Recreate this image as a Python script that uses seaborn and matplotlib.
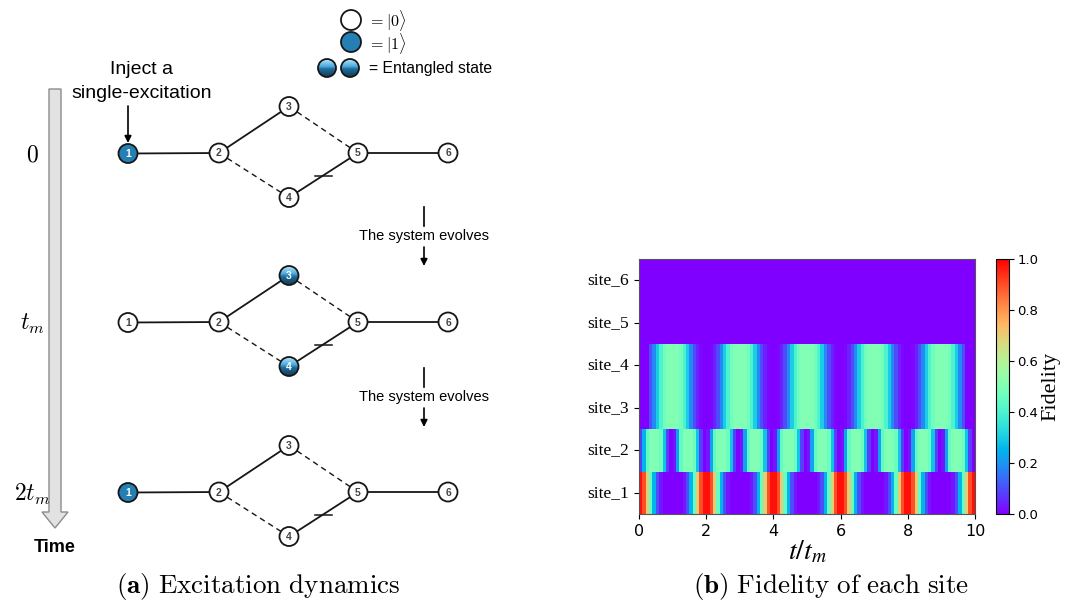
import numpy as np
import pandas as pd
import matplotlib
matplotlib.use("Agg")
import matplotlib.pyplot as plt
import seaborn as sns
from matplotlib.patches import Circle, FancyArrow
from matplotlib.colors import LinearSegmentedColormap

# ---------------------------------------------------------------------------
# Fidelity of each site, sampled in cells of width 0.1 t_m (centres 0.05 .. 9.95)
# ---------------------------------------------------------------------------
time_ticks = [0, 2, 4, 6, 8, 10]
site_names = ["site_6", "site_5", "site_4", "site_3", "site_2", "site_1"]

fid_site1 = [
    0.98, 0.90, 0.70, 0.45, 0.25, 0.10, 0.03, 0.00, 0.00, 0.00,
    0.00, 0.00, 0.00, 0.03, 0.10, 0.25, 0.45, 0.70, 0.90, 0.98,
    0.98, 0.90, 0.70, 0.45, 0.25, 0.10, 0.03, 0.00, 0.00, 0.00,
    0.00, 0.00, 0.00, 0.03, 0.10, 0.25, 0.45, 0.70, 0.90, 0.98,
    0.98, 0.90, 0.70, 0.45, 0.25, 0.10, 0.03, 0.00, 0.00, 0.00,
    0.00, 0.00, 0.00, 0.03, 0.10, 0.25, 0.45, 0.70, 0.90, 0.98,
    0.98, 0.90, 0.70, 0.45, 0.25, 0.10, 0.03, 0.00, 0.00, 0.00,
    0.00, 0.00, 0.00, 0.03, 0.10, 0.25, 0.45, 0.70, 0.90, 0.98,
    0.98, 0.90, 0.70, 0.45, 0.25, 0.10, 0.03, 0.00, 0.00, 0.00,
    0.00, 0.00, 0.00, 0.03, 0.10, 0.25, 0.45, 0.70, 0.90, 0.98,
]

fid_site2 = [
    0.08, 0.25, 0.44, 0.50, 0.50, 0.50, 0.46, 0.28, 0.08, 0.00,
    0.03, 0.22, 0.44, 0.50, 0.50, 0.50, 0.46, 0.28, 0.08, 0.00,
    0.03, 0.22, 0.44, 0.50, 0.50, 0.50, 0.46, 0.28, 0.08, 0.00,
    0.03, 0.22, 0.44, 0.50, 0.50, 0.50, 0.46, 0.28, 0.08, 0.00,
    0.03, 0.22, 0.44, 0.50, 0.50, 0.50, 0.46, 0.28, 0.08, 0.00,
    0.03, 0.22, 0.44, 0.50, 0.50, 0.50, 0.46, 0.28, 0.08, 0.00,
    0.03, 0.22, 0.44, 0.50, 0.50, 0.50, 0.46, 0.28, 0.08, 0.00,
    0.03, 0.22, 0.44, 0.50, 0.50, 0.50, 0.46, 0.28, 0.08, 0.00,
    0.03, 0.22, 0.44, 0.50, 0.50, 0.50, 0.46, 0.28, 0.08, 0.00,
    0.03, 0.22, 0.44, 0.50, 0.50, 0.50, 0.46, 0.28, 0.08, 0.00,
]

fid_site3 = [
    0.00, 0.00, 0.00, 0.10, 0.18, 0.30, 0.40, 0.47, 0.50, 0.50,
    0.50, 0.50, 0.47, 0.40, 0.30, 0.18, 0.10, 0.04, 0.01, 0.00,
    0.00, 0.01, 0.04, 0.10, 0.18, 0.30, 0.40, 0.47, 0.50, 0.50,
    0.50, 0.50, 0.47, 0.40, 0.30, 0.18, 0.10, 0.04, 0.01, 0.00,
    0.00, 0.01, 0.04, 0.10, 0.18, 0.30, 0.40, 0.47, 0.50, 0.50,
    0.50, 0.50, 0.47, 0.40, 0.30, 0.18, 0.10, 0.04, 0.01, 0.00,
    0.00, 0.01, 0.04, 0.10, 0.18, 0.30, 0.40, 0.47, 0.50, 0.50,
    0.50, 0.50, 0.47, 0.40, 0.30, 0.18, 0.10, 0.04, 0.01, 0.00,
    0.00, 0.01, 0.04, 0.10, 0.18, 0.30, 0.40, 0.47, 0.50, 0.50,
    0.50, 0.50, 0.47, 0.40, 0.30, 0.18, 0.10, 0.00, 0.00, 0.00,
]

fid_site4 = [
    0.00, 0.00, 0.00, 0.10, 0.18, 0.30, 0.40, 0.47, 0.50, 0.50,
    0.50, 0.50, 0.47, 0.40, 0.30, 0.18, 0.10, 0.04, 0.01, 0.00,
    0.00, 0.01, 0.04, 0.10, 0.18, 0.30, 0.40, 0.47, 0.50, 0.50,
    0.50, 0.50, 0.47, 0.40, 0.30, 0.18, 0.10, 0.04, 0.01, 0.00,
    0.00, 0.01, 0.04, 0.10, 0.18, 0.30, 0.40, 0.47, 0.50, 0.50,
    0.50, 0.50, 0.47, 0.40, 0.30, 0.18, 0.10, 0.04, 0.01, 0.00,
    0.00, 0.01, 0.04, 0.10, 0.18, 0.30, 0.40, 0.47, 0.50, 0.50,
    0.50, 0.50, 0.47, 0.40, 0.30, 0.18, 0.10, 0.04, 0.01, 0.00,
    0.00, 0.01, 0.04, 0.10, 0.18, 0.30, 0.40, 0.47, 0.50, 0.50,
    0.50, 0.50, 0.47, 0.40, 0.30, 0.18, 0.10, 0.00, 0.00, 0.00,
]

fid_site5 = [0.0] * 100
fid_site6 = [0.0] * 100

# Network states shown at t = 0, t_m, 2t_m
time_labels = [r"$0$", r"$t_m$", r"$2t_m$"]
excited_nodes = [[1], [], [1]]
entangled_nodes = [[], [3, 4], []]

# ---------------------------------------------------------------------------
SANS = "Liberation Sans"
SERIF = "Liberation Serif"
BLUE = "#2480b4"
EDGE = "#161616"

ent_cmap = LinearSegmentedColormap.from_list(
    "ent", [(0.0, "#b6e6fb"), (0.4, "#4eacdf"), (0.55, "#1f6d9c"), (1.0, "#123a55")])

fig = plt.figure(figsize=(10.66, 6.01), dpi=100)

# Overlay in pixel-like coordinates for the schematic
ov = fig.add_axes([0, 0, 1, 1])
ov.set_xlim(0, 1066)
ov.set_ylim(601, 0)
ov.axis("off")
ov.set_autoscale_on(False)


def plain_node(x, y, r, n=None, face="white", txt="#444444"):
    ov.add_patch(Circle((x, y), r, facecolor=face, edgecolor=EDGE, lw=1.3, zorder=5))
    if n is not None:
        ov.text(x, y + 0.5, str(n), ha="center", va="center", fontsize=7.5,
                fontweight="bold", color=txt, family=SANS, zorder=6)


def shaded_node(x, y, r, n=None):
    circ = Circle((x, y), r, facecolor="none", edgecolor=EDGE, lw=1.3, zorder=6)
    ov.add_patch(circ)
    grad = np.linspace(0, 1, 64).reshape(-1, 1)
    im = ov.imshow(grad, cmap=ent_cmap, extent=(x - r, x + r, y + r, y - r),
                   origin="upper", aspect="auto", zorder=5, interpolation="bilinear")
    im.set_clip_path(circ)
    if n is not None:
        ov.text(x, y + 0.5, str(n), ha="center", va="center", fontsize=7.5,
                fontweight="bold", color="white", family=SANS, zorder=7)


# Node layout of one row (offsets from the row baseline)
node_dx = {1: 128, 2: 219, 3: 289, 4: 289, 5: 358, 6: 448}
node_dy = {1: 0.5, 2: 0, 3: -46.5, 4: 44.5, 5: 0, 6: 0}
row_y = [153, 322, 492]
R = 9.5

solid_edges = [(1, 2), (2, 3), (4, 5), (5, 6)]
dashed_edges = [(2, 4), (3, 5)]

for k, y0 in enumerate(row_y):
    pos = {n: (node_dx[n], y0 + node_dy[n]) for n in node_dx}
    for a, b in solid_edges:
        ov.plot([pos[a][0], pos[b][0]], [pos[a][1], pos[b][1]], color=EDGE, lw=1.3, zorder=2)
    for a, b in dashed_edges:
        ov.plot([pos[a][0], pos[b][0]], [pos[a][1], pos[b][1]], color=EDGE, lw=1.0,
                ls=(0, (4, 3)), zorder=2)
    # phase mark on the 4-5 coupling
    ov.plot([315, 332], [y0 + 23, y0 + 23], color=EDGE, lw=1.1, zorder=3)
    for n in node_dx:
        x, y = pos[n]
        if n in excited_nodes[k]:
            plain_node(x, y, R, n, face=BLUE, txt="white")
        elif n in entangled_nodes[k]:
            shaded_node(x, y, R, n)
        else:
            plain_node(x, y, R, n)
    ov.text(32, y0 + 2, time_labels[k], ha="center", va="center", fontsize=17,
            math_fontfamily="cm")

# Time arrow
ov.add_patch(FancyArrow(55, 89, 0, 439, width=12, head_width=26, head_length=16,
                        length_includes_head=True, fc="#e2e2e2", ec="#8c8c8c", lw=1.0,
                        zorder=1))
ov.text(55, 548, "Time", ha="center", va="center", fontsize=13, fontweight="bold",
        family=SANS)

# Injection arrow and text
ov.text(141, 70, "Inject a", ha="center", va="center", fontsize=14, family=SANS)
ov.text(142, 93, "single-excitation", ha="center", va="center", fontsize=14, family=SANS)
ov.annotate("", xy=(128, 143), xytext=(128, 106),
            arrowprops=dict(arrowstyle="-|>", color="black", lw=1.2, mutation_scale=10,
                            shrinkA=0, shrinkB=0))

# Evolution arrows
for y_text in (236, 397):
    ov.plot([424, 424], [y_text - 29, y_text - 10], color="black", lw=1.2)
    ov.text(424, y_text, "The system evolves", ha="center", va="center", fontsize=10.5,
            family=SANS)
    ov.annotate("", xy=(424, y_text + 30), xytext=(424, y_text + 11),
                arrowprops=dict(arrowstyle="-|>", color="black", lw=1.2, mutation_scale=10,
                                shrinkA=0, shrinkB=0))

# Key for node states
plain_node(351, 20, 10)
ov.text(368, 20, r"$= |0\rangle$", ha="left", va="center", fontsize=11.5, math_fontfamily="cm")
plain_node(351, 42, 10, face=BLUE)
ov.text(368, 43, r"$= |1\rangle$", ha="left", va="center", fontsize=11.5, math_fontfamily="cm")
shaded_node(327, 68, 9)
shaded_node(350, 68, 9)
ov.text(369, 68, "= Entangled state", ha="left", va="center", fontsize=11.3, family=SANS)

# Captions
ov.text(258, 586, r"$\mathbf{(a)}\ \mathrm{Excitation\ dynamics}$", ha="center",
        va="center", fontsize=19.5, math_fontfamily="cm")
ov.text(831, 586, r"$\mathbf{(b)}\ \mathrm{Fidelity\ of\ each\ site}$", ha="center",
        va="center", fontsize=19.5, math_fontfamily="cm")

# ---------------------------------------------------------------------------
# Fidelity heatmap
# ---------------------------------------------------------------------------
df = pd.DataFrame([fid_site6, fid_site5, fid_site4, fid_site3, fid_site2, fid_site1],
                  index=site_names)

ax = fig.add_axes([639 / 1066, 87 / 601, 336 / 1066, 255 / 601])
cax = fig.add_axes([996 / 1066, 87 / 601, 13 / 1066, 255 / 601])
sns.heatmap(df, ax=ax, cbar_ax=cax, cmap="rainbow", vmin=0, vmax=1,
            xticklabels=False, yticklabels=True)
ax.collections[0].set_antialiased(False)

ncols = df.shape[1]
ax.set_xticks([t * ncols / 10 for t in time_ticks])
ax.set_xticklabels([str(t) for t in time_ticks], rotation=0, fontsize=11.5)
ax.set_yticks(np.arange(len(site_names)) + 0.5)
ax.set_yticklabels(site_names, rotation=0, fontsize=12.5, family=SERIF)
ax.tick_params(axis="both", length=3.5, width=0.8)
ax.set_xlabel(r"$t/t_m$", fontsize=20, math_fontfamily="stix", labelpad=-1)
ax.set_ylabel("")
for sp in ax.spines.values():
    sp.set_visible(True)
    sp.set_linewidth(0.8)
    sp.set_color("#555555")

cbar = ax.collections[0].colorbar
cbar.set_ticks([0.0, 0.2, 0.4, 0.6, 0.8, 1.0])
cbar.ax.tick_params(labelsize=9.5, length=3.5, width=0.8, pad=2.5)
cbar.set_label("Fidelity", family=SERIF, fontsize=16, labelpad=2)
cbar.outline.set_visible(True)
cbar.outline.set_linewidth(0.8)

fig.savefig("out.png", dpi=100)
